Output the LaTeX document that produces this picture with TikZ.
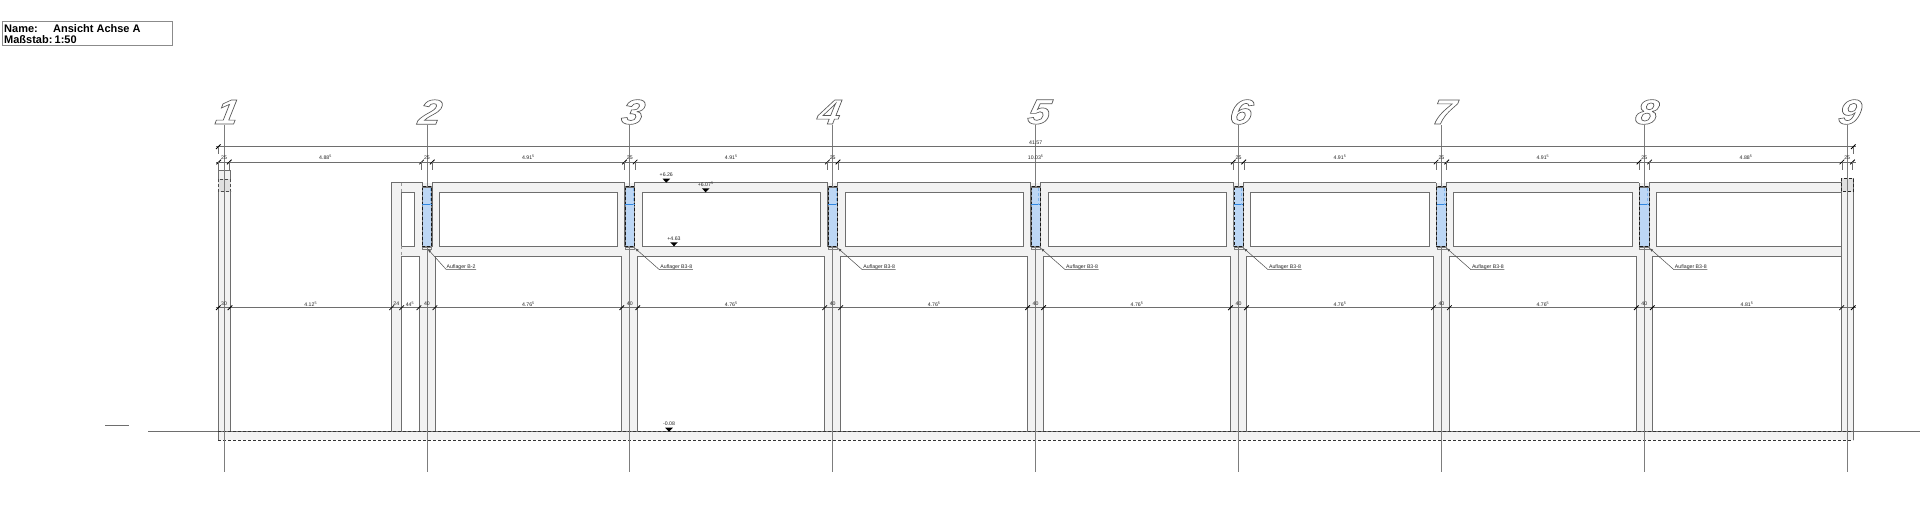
\documentclass[tikz,border=0pt]{standalone}
\usepackage{fontspec}
\setmainfont{Liberation Sans}
\usetikzlibrary{arrows.meta}
\definecolor{conc}{HTML}{F2F2F2}
\definecolor{lin}{HTML}{6E6E6E}
\definecolor{colblue}{HTML}{BDD7F5}
\definecolor{midblue}{HTML}{2F86E0}
\newcommand{\outl}[1]{\special{pdf:code 1 Tr 0.65 w 0.35 G}#1\special{pdf:code 0 Tr 0 G}}
\tikzset{
  wall/.style={draw=lin,line width=.7pt},
  axisline/.style={draw=lin!90,line width=.8pt},
  dimline/.style={draw=lin,line width=.7pt},
  extline/.style={draw=lin,line width=.5pt},
  tickmark/.style={draw=black,line width=.8pt},
  dimtext/.style={font=\fontsize{5.2}{5.5}\selectfont,text=black!85,inner sep=0pt},
  axisnum/.style={font=\fontsize{35}{36}\selectfont\bfseries\itshape,inner sep=0pt,xscale=1.15,xslant=.15,transform shape},
  titletext/.style={font=\fontsize{11}{11}\selectfont\bfseries,inner sep=0pt,anchor=base west},
  levelmark/.style={fill=black,draw=none},
  dashbox/.style={draw=black!70,line width=.5pt,densely dashed},
  leader/.style={draw=black!70,line width=.5pt},
}
\newcommand{\tick}[2]{\draw[tickmark] (#1-2.3,#2+2.3) -- (#1+2.3,#2-2.3);}
\begin{document}
\begin{tikzpicture}[x=1pt,y=-1pt]
\useasboundingbox (0,0) rectangle (1920,524);
% title
\draw[wall,draw=lin!80] (2,21) rectangle (172,45);
\node[titletext] (tname) at (4,33) {Name:};
\node[titletext] (tview) at (53,33) {Ansicht Achse A};
\node[titletext] (tscale) at (4,44) {Maßstab:\hspace{2.2pt}1:50};
% small mark and ground line
\draw[extline,line width=.6pt] (105,425) -- (129.3,425);
\draw[wall] (148,431.7) -- (1920,431.7);
% concrete body
\fill[conc] (391.7,182.7) rectangle (1841.7,431.7);
% end columns
\fill[conc] (218.3,170) rectangle (230,431.7);
\draw[wall] (218.3,170) rectangle (230,431.7);
\fill[black!12] (218.3,179) rectangle (230.6,191.7);
\draw[dashbox] (218.3,179) rectangle (230.6,191.7);
\fill[conc] (1841.7,178.3) rectangle (1853.3,431.7);
\draw[wall] (1841.7,178.3) rectangle (1853.3,431.7);
\fill[black!12] (1841.7,178.3) rectangle (1853.3,191.7);
\draw[dashbox,draw=black!85,line width=.7pt] (1841.7,178.3) rectangle (1853.3,191.7);
% left stub of the wall at axis 2
\draw[wall] (422.3,246.7) -- (422.3,182.7) -- (391.7,182.7) -- (391.7,431.7);
\filldraw[wall,fill=white] (401.3,192.3) rectangle (414.3,246.3);
\filldraw[wall,fill=white] (401.7,431.7) -- (401.7,256.3) -- (419,256.3) -- (419,431.7);
\draw[extline,dashed,draw=black!40] (401.7,182.7) -- (401.7,192.3) (401.7,246.3) -- (401.7,256.3);
% bays
\foreach \i in {2,...,8}{
  \pgfmathsetmacro\xa{224+202.9*(\i-1)}
  \pgfmathsetmacro\xb{\xa+202.9}
  \pgfmathsetmacro\topr{\i==8 ? 1841.7 : \xb-5}
  \pgfmathsetmacro\winr{\i==8 ? 1841.7 : \xb-12.3}
  \pgfmathsetmacro\lowr{\i==8 ? 1841.7 : \xb-8}
  \draw[wall] (\xa+5,246.7) -- (\xa+5,182.7) -- (\topr,182.7);
  \ifnum\i<8 \draw[wall] (\topr,182.7) -- (\topr,246.7);\fi
  \filldraw[wall,fill=white] (\xa+12.3,192.3) rectangle (\winr,246.3);
  \filldraw[wall,fill=white] (\xa+8,431.7) -- (\xa+8,256.3) -- (\lowr,256.3) -- (\lowr,431.7);
}
% floor slab
\fill[conc] (218.3,431.7) rectangle (1853.3,440);
\draw[wall] (218.3,431.7) -- (1853.3,431.7);
\draw[dashbox,draw=black!80] (218.3,431.7) -- (1853.3,431.7);
\draw[dashbox,draw=black!80,line width=.6pt] (218.3,440) -- (1853.3,440);
\draw[wall] (218.3,431.7) -- (218.3,440) (1853.3,431.7) -- (1853.3,440);
% axes
\foreach \i in {1,...,9}{
  \pgfmathsetmacro\xa{224+202.9*(\i-1)}
  \ifnum\i=1 \draw[axisline] (\xa,125) -- (\xa,472);
  \else\ifnum\i=9 \draw[axisline] (\xa,125) -- (\xa,472);
  \else \draw[axisline] (\xa,125) -- (\xa,187) (\xa,247) -- (\xa,472);
  \fi\fi
}
% columns with bearing
\foreach \i in {2,...,8}{
  \pgfmathsetmacro\xa{224+202.9*(\i-1)}
  \fill[colblue] (\xa-4.7,186.7) rectangle (\xa+4.7,246.7);
  \draw[black!50,line width=.8pt] (\xa-4.7,186.7) rectangle (\xa+4.7,246.7);
  \draw[dashbox,draw=black!90,line width=.5pt] (\xa-4.7,186.7) rectangle (\xa+4.7,246.7);
  \fill[black!55] (\xa-4.7,186.7) rectangle (\xa+4.7,188.2);
  \draw[midblue,line width=.7pt] (\xa-4.7,204.7) -- (\xa+4.7,204.7);
  \draw[midblue!60,line width=.4pt,densely dashed] (\xa+3,188) -- (\xa+3,204.7);
  \draw[black!50,line width=.4pt] (\xa-4.7,246.7) rectangle (\xa+4.7,249);
}
% axis numbers
\foreach \i/\dx in {1/3.5,2/3.5,3/3.5,4/-3,5/4,6/3,7/3,8/3,9/3}{
  \pgfmathsetmacro\xa{224+202.9*(\i-1)+\dx}
  \node[axisnum,anchor=center] (num\i) at (\xa,112) {\outl{\i}};
}
% dimension row 1
\draw[dimline] (216,146.7) -- (1856,146.7);
\tick{218.3}{146.7}\tick{1853.3}{146.7}
\draw[extline] (218.3,146.7) -- (218.3,154) (1853.3,146.7) -- (1853.3,154);
\node[dimtext] (d0) at (1035.7,142.3) {41.57};
% dimension row 2
\draw[dimline] (216,162) -- (1856,162);
\foreach \i in {1,2,3,4,6,7,8,9}{
  \pgfmathsetmacro\xa{224+202.9*(\i-1)}
  \tick{\xa-5.3}{162}\tick{\xa+5.3}{162}
  \draw[extline] (\xa-5.3,162) -- (\xa-5.3,170) (\xa+5.3,162) -- (\xa+5.3,170);
  \node[dimtext] (tw\i) at (\xa,157.7) {25};
}
\node[dimtext] (s1) at (325.5,157.7) {4.88\textsuperscript{5}};
\foreach \i in {2,3,6,7}{
  \pgfmathsetmacro\xa{224+202.9*(\i-1)+101.45}
  \node[dimtext] (s\i) at (\xa,157.7) {4.91\textsuperscript{5}};
}
\node[dimtext] (s4) at (1035.7,157.7) {10.03\textsuperscript{5}};
\node[dimtext] (s8) at (1746,157.7) {4.88\textsuperscript{5}};
% dimension row 3
\draw[dimline] (216,307.7) -- (1856,307.7);
\foreach \xx in {218.3,230,391.7,401.7,1841.7,1853.3}{\tick{\xx}{307.7}}
\foreach \i in {2,...,8}{
  \pgfmathsetmacro\xa{224+202.9*(\i-1)}
  \tick{\xa-8}{307.7}\tick{\xa+8}{307.7}
  \node[dimtext] (pw\i) at (\xa,304) {40};
}
\node[dimtext] (p1) at (224,304) {30};
\node[dimtext] (l1) at (310.7,304) {4.12\textsuperscript{5}};
\node[dimtext] (l2) at (396.3,304) {24};
\node[dimtext] (l3) at (410,304) {44\textsuperscript{5}};
\foreach \i in {2,...,7}{
  \pgfmathsetmacro\xa{224+202.9*(\i-1)+101.45}
  \node[dimtext] (w\i) at (\xa,304) {4.76\textsuperscript{5}};
}
\node[dimtext] (w8) at (1747,304) {4.81\textsuperscript{5}};
% support labels
\node[dimtext,anchor=base] (a2) at (461,268) {Auflager B-2};
\coordinate (t2) at (427.5,248.7);
\coordinate (k2) at (446,269.3);
\coordinate (e2) at (476,269.3);
\draw[leader,-{Latex[length=4pt,width=2.6pt]}] (e2) -- (k2) -- (t2);
\foreach \i in {3,...,8}{
  \pgfmathsetmacro\xa{224+202.9*(\i-1)}
  \node[dimtext,anchor=base] (a\i) at (\xa+46.5,268) {Auflager B3-8};
  \coordinate (t\i) at (\xa+5,248);
  \coordinate (k\i) at (\xa+29.5,269.6);
  \coordinate (e\i) at (\xa+63,269.6);
  \draw[leader,-{Latex[length=4pt,width=2.6pt]}] (e\i) -- (k\i) -- (t\i);
}
% level marks
\foreach \n/\xx/\yy/\txt in {m1/666.3/182.7/+6.26,m2/705.7/192.3/+6.07\textsuperscript{5},m3/674/246.3/+4.63,m4/669/431.7/-0.08}{
  \fill[levelmark] (\xx-3.8,\yy-4) -- (\xx+3.8,\yy-4) -- (\xx,\yy) -- cycle;
  \node[dimtext] (\n) at (\xx,\yy-8) {\txt};
}
\end{tikzpicture}
\end{document}
